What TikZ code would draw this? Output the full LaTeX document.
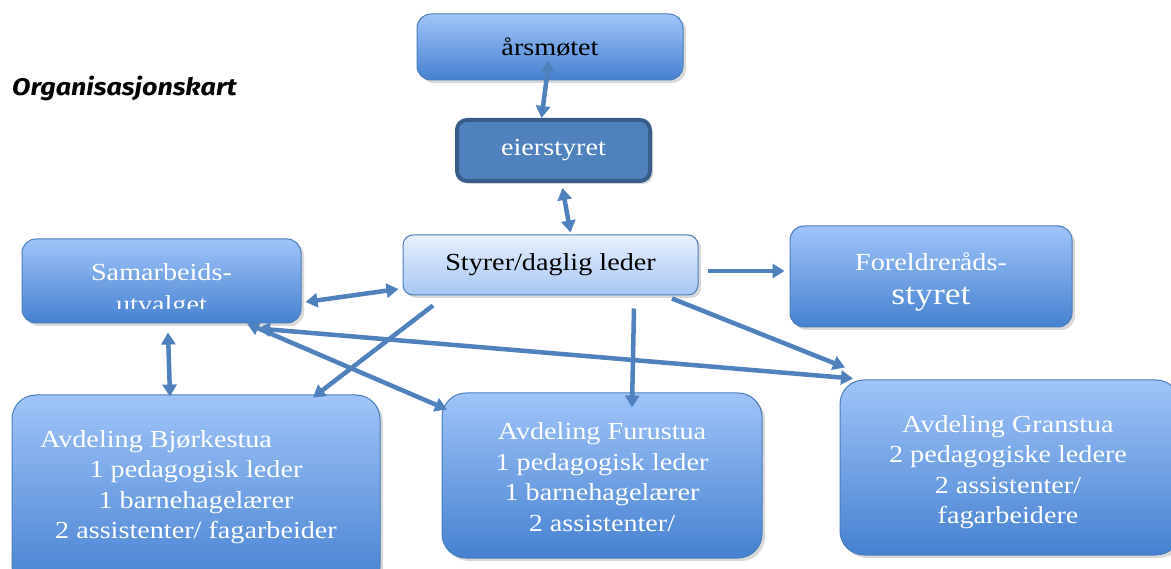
\documentclass[tikz,border=0pt]{standalone}
\usepackage{fontspec}
\setmainfont[FakeStretch=1.15]{Liberation Serif}
\newfontfamily\titlefont[FakeStretch=1.12]{Fira Sans}
\usetikzlibrary{shadows,arrows.meta}
\definecolor{boxtop}{HTML}{A0C4F9}
\definecolor{boxbot}{HTML}{4581D0}
\definecolor{boxedge}{HTML}{4A7EBB}
\definecolor{stytop}{HTML}{E8F0FC}
\definecolor{stybot}{HTML}{A6C6F4}
\definecolor{eierfill}{HTML}{4F81BD}
\definecolor{eieredge}{HTML}{385D8A}
\definecolor{arrowc}{HTML}{4F81BD}
\tikzset{
 orgbox/.style={draw=boxedge, line width=1pt, rounded corners=14pt, top color=boxtop, bottom color=boxbot,
   drop shadow={opacity=0.3, shadow xshift=3pt, shadow yshift=-3pt}},
 stybox/.style={orgbox, top color=stytop, bottom color=stybot, rounded corners=10pt},
 eierbox/.style={draw=eieredge, line width=4pt, fill=eierfill, rounded corners=10pt,
   drop shadow={opacity=0.3, shadow xshift=3pt, shadow yshift=-3pt}},
 txt/.style={font=\fontsize{24.5}{30.5}\selectfont, align=center, inner sep=0pt},
 wtxt/.style={txt, text=white},
 conn/.style={draw=arrowc, line width=4.5pt, -{Triangle[length=12pt,width=14pt]}},
 biconn/.style={draw=arrowc, line width=4.5pt, {Triangle[length=12pt,width=14pt]}-{Triangle[length=12pt,width=14pt]}}
}
\begin{document}
\begin{tikzpicture}[x=1pt,y=-1pt]
\clip (0,0) rectangle (1171,569);
\fill[white] (0,0) rectangle (1171,569);

\node[font=\titlefont\bfseries\itshape\fontsize{24}{28}\selectfont, anchor=west, inner sep=0pt] (title) at (12,88) {Organisasjonskart};

\node[orgbox, txt, minimum width=266pt, minimum height=66pt] (ars) at (550,47) {årsmøtet};
\node[eierbox, wtxt, minimum width=193pt, minimum height=61pt] (eier) at (553.5,150.5) {eierstyret};
\node[stybox, txt, minimum width=295pt, minimum height=60pt] (sty) at (550.5,265) {Styrer/daglig leder};
\node[orgbox, minimum width=279pt, minimum height=84pt] (sam) at (161.5,281) {};
\begin{scope}
\clip (22,239) rectangle (301,309);
\node[wtxt] (samtxt) at (161.5,291) {Samarbeids-\\[1.5pt]utvalget};
\end{scope}
\node[orgbox, minimum width=282pt, minimum height=101pt] (for) at (931,276.5) {};
\node[wtxt] (fortxt) at (931,282) {Foreldreråds-\\[3pt]{\fontsize{31}{34}\selectfont styret}};

\node[orgbox, rounded corners=24pt, minimum width=368pt, minimum height=195pt] (bj) at (196,492.5) {};
\node[wtxt] (bjtxt) at (196,487) {Avdeling Bjørkestua\hspace*{80pt}\\1 pedagogisk leder\\1 barnehagelærer\\2 assistenter/ fagarbeider};
\node[orgbox, rounded corners=24pt, minimum width=320pt, minimum height=165pt] (furu) at (602,475.5) {};
\node[wtxt] (furutxt) at (602,477) {Avdeling Furustua\\1 pedagogisk leder\\1 barnehagelærer\\2 assistenter/};
\node[orgbox, rounded corners=24pt, minimum width=340pt, minimum height=175pt] (gran) at (1010,467.5) {};
\node[wtxt] (grantxt) at (1008,472) {Avdeling Granstua\\2 pedagogiske ledere\\2 assistenter/\\fagarbeidere};

\draw[biconn] ([xshift=-1pt,yshift=20pt]ars.south) -- ([xshift=-12pt]eier.north);
\draw[biconn] ([xshift=9pt,yshift=-5pt]eier.south) -- ([xshift=20pt,yshift=2pt]sty.north);
\draw[biconn] ([xshift=4pt,yshift=-21pt]sam.east) -- ([xshift=-4pt,yshift=-24pt]sty.west);
\draw[conn] ([xshift=9pt,yshift=-6pt]sty.east) -- ([xshift=-5pt,yshift=5.5pt]for.west);
\draw[conn] ([xshift=-117.5pt,yshift=-10pt]sty.south) -- ([xshift=117pt,yshift=-3pt]bj.north);
\draw[conn] ([xshift=83.5pt,yshift=-13pt]sty.south) -- ([xshift=30pt,yshift=-15pt]furu.north);
\draw[conn] ([xshift=121.5pt,yshift=-3pt]sty.south) -- ([xshift=-165pt,yshift=12pt]gran.north);
\draw[biconn] ([xshift=85.5pt]sam.south) -- ([xshift=-155pt,yshift=-17pt]furu.north);
\draw[biconn] ([xshift=96.5pt,yshift=-5pt]sam.south) -- ([xshift=-157pt,yshift=1pt]gran.north);
\draw[biconn] ([xshift=6.5pt,yshift=-9pt]sam.south) -- ([xshift=-26pt,yshift=-2pt]bj.north);
\end{tikzpicture}
\end{document}
